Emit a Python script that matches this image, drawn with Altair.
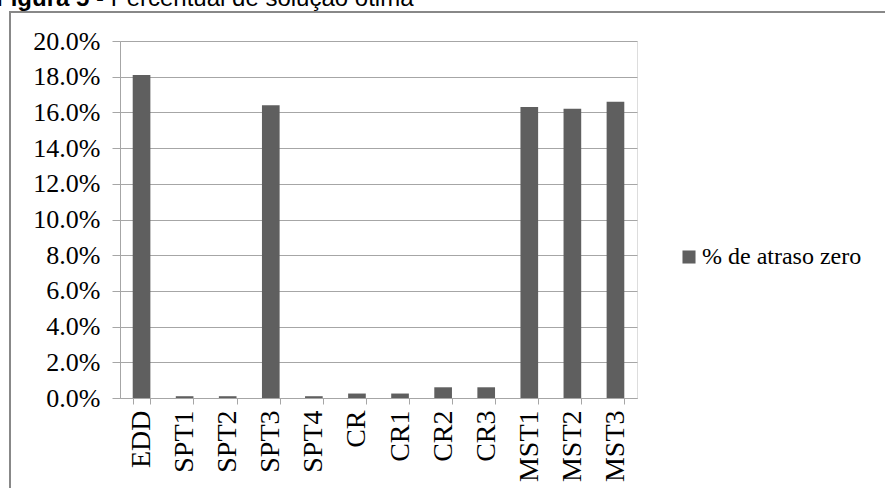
import altair as alt
import pandas as pd

# Share of instances solved with zero tardiness, per dispatching rule
rules = ["EDD", "SPT1", "SPT2", "SPT3", "SPT4", "CR", "CR1", "CR2", "CR3", "MST1", "MST2", "MST3"]
zero_delay = [0.181, 0.001, 0.001, 0.164, 0.001, 0.0025, 0.0025, 0.006, 0.006, 0.163, 0.162, 0.166]
series_name = "% de atraso zero"
y_ticks = [0.0, 0.02, 0.04, 0.06, 0.08, 0.10, 0.12, 0.14, 0.16, 0.18, 0.20]

title_bold = "Figura 5"
title_rest = "- Percentual de solução ótima"

df = pd.DataFrame({"regra": rules, "valor": zero_delay, "serie": series_name})
one = pd.DataFrame({"k": [0]})

SERIF = "Liberation Serif"
GRID = "#a6a6a6"
BAR = "#5f5f5f"

bars = alt.Chart(df).mark_bar(color=BAR).encode(
    x=alt.X(
        "regra:N",
        sort=rules,
        title=None,
        scale=alt.Scale(paddingInner=0.59, paddingOuter=0.295),
        axis=alt.Axis(
            labelAngle=-90,
            labelFont=SERIF,
            labelFontSize=28,
            labelColor="#000000",
            labelPadding=6,
            tickBand="extent",
            tickSize=6,
            tickColor=GRID,
            domainColor=GRID,
            grid=False,
        ),
    ),
    y=alt.Y(
        "valor:Q",
        title=None,
        scale=alt.Scale(domain=[0, 0.2], nice=False),
        axis=alt.Axis(
            values=y_ticks,
            format=".1%",
            labelFont=SERIF,
            labelFontSize=26,
            labelColor="#000000",
            labelPadding=12,
            tickSize=8,
            tickColor=GRID,
            domainColor=GRID,
            gridColor=GRID,
            grid=True,
        ),
    ),
    color=alt.Color(
        "serie:N",
        scale=alt.Scale(range=[BAR]),
        legend=alt.Legend(
            title=None,
            orient="none",
            legendX=557,
            legendY=204,
            padding=0,
            symbolType="square",
            symbolSize=170,
            symbolStrokeWidth=0,
            labelFont=SERIF,
            labelFontSize=24,
            labelColor="#000000",
            labelOffset=1,
            labelLimit=0,
        ),
    ),
)

# Outer frame around the figure
frame = alt.Chart(one).mark_rect(fill=None, stroke="#888888", strokeWidth=2).encode(
    x=alt.value(-110), x2=alt.value(900), y=alt.value(-29), y2=alt.value(600)
)

t1 = alt.Chart(one).mark_text(
    text=title_bold, font="Liberation Sans", fontSize=24, fontWeight="bold",
    align="left", baseline="alphabetic", color="#000000",
).encode(x=alt.value(-124), y=alt.value(-35))

t2 = alt.Chart(one).mark_text(
    text=title_rest, font="Liberation Sans", fontSize=24,
    align="left", baseline="alphabetic", color="#000000",
).encode(x=alt.value(-24), y=alt.value(-35))

chart = alt.layer(frame, bars, t1, t2).properties(
    width=517,
    height=357,
    autosize=alt.AutoSizeParams(type="none"),
    padding={"left": 120, "top": 41, "right": 248, "bottom": 90},
).configure_view(stroke=None).configure(background="#ffffff")

chart.save("out.html", embed_options={"renderer": "svg", "actions": False})
